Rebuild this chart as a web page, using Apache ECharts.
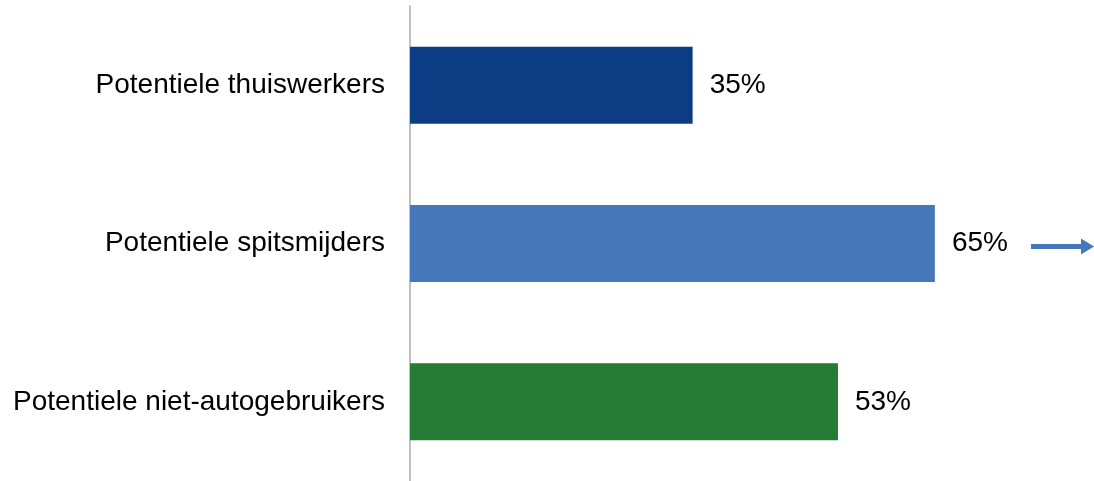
<!DOCTYPE html>
<html>
<head>
<meta charset="utf-8">
<script src="https://cdn.jsdelivr.net/npm/echarts@6/dist/echarts.min.js"></script>
<style>
  html, body { margin: 0; padding: 0; background: #ffffff; }
  #chart { width: 1094px; height: 481px; }
</style>
</head>
<body>
<div id="chart"></div>
<script>
// Share of commuters per potential behaviour group
const categories = ['Potentiele thuiswerkers', 'Potentiele spitsmijders', 'Potentiele niet-autogebruikers'];
const values = [35, 65, 53];
const barColors = ['#0c3d84', '#4777bb', '#257d35'];

const chart = echarts.init(document.getElementById('chart'));

const textFont = {
  color: '#000000',
  fontFamily: 'Liberation Sans, Arial, sans-serif',
  fontSize: 28
};

chart.setOption({
  animation: false,
  grid: { left: 410, right: 38, top: 6, bottom: 0, containLabel: false },
  xAxis: {
    type: 'value',
    min: 0,
    max: 80,
    show: false
  },
  yAxis: {
    type: 'category',
    inverse: true,
    data: categories,
    axisLine: { show: true, lineStyle: { color: '#c0c0c0', width: 2 } },
    axisTick: { show: false },
    axisLabel: Object.assign({ margin: 25, padding: [6, 0, 0, 0] }, textFont)
  },
  series: [{
    type: 'bar',
    barWidth: 77,
    data: values.map((v, i) => ({ value: v, itemStyle: { color: barColors[i] } })),
    label: Object.assign({
      show: true,
      position: 'right',
      distance: 17,
      padding: [6, 0, 0, 0],
      formatter: '{c}%'
    }, textFont)
  }]
});

// Arrow pointing right, next to the middle bar's label
const midY = chart.convertToPixel({ yAxisIndex: 0 }, categories[1]) + 3;
chart.setOption({
  graphic: [{
    type: 'group',
    children: [
      {
        type: 'line',
        shape: { x1: 1031, y1: midY, x2: 1083, y2: midY },
        style: { stroke: '#4777bb', lineWidth: 5 }
      },
      {
        type: 'polygon',
        shape: { points: [[1081, midY - 8], [1094, midY], [1081, midY + 8]] },
        style: { fill: '#4777bb' }
      }
    ]
  }]
});
</script>
</body>
</html>
